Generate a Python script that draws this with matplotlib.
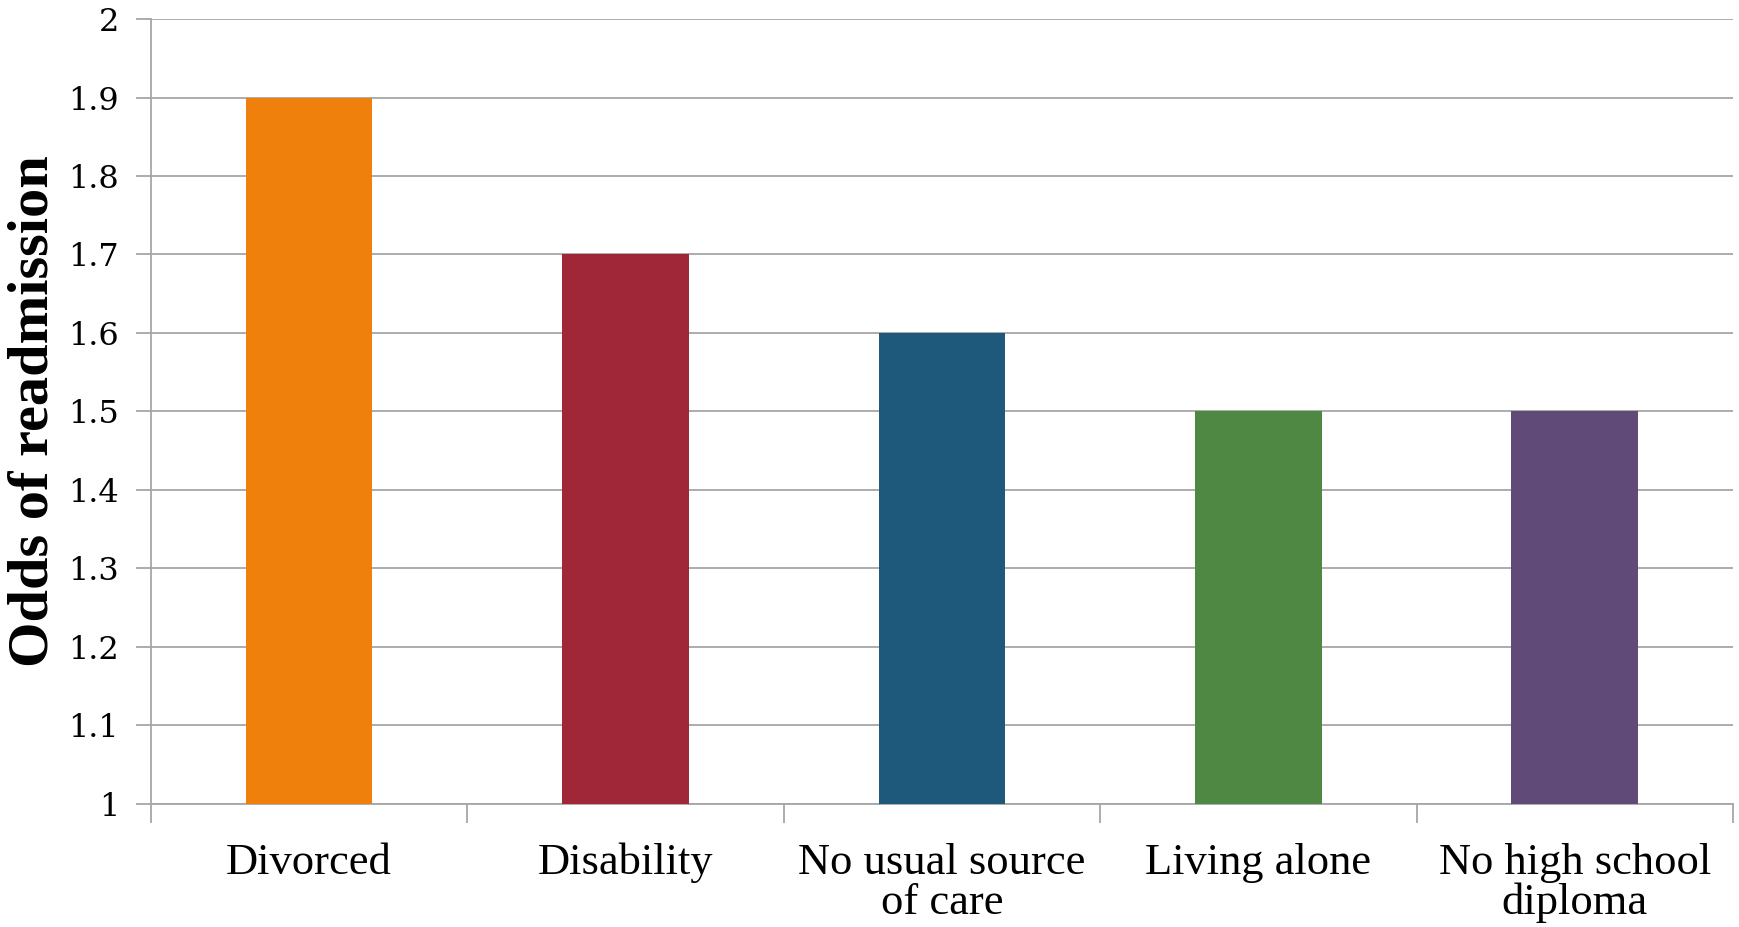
import matplotlib.pyplot as plt
import numpy as np

categories = ['Divorced', 'Disability', 'No usual source\nof care', 'Living alone', 'No high school\ndiploma']
odds = [1.9, 1.7, 1.6, 1.5, 1.5]
colors = ['#EF800B', '#A02737', '#1E587A', '#4E8842', '#604A78']
yticks = [1, 1.1, 1.2, 1.3, 1.4, 1.5, 1.6, 1.7, 1.8, 1.9, 2]
ytick_labels = ['1', '1.1', '1.2', '1.3', '1.4', '1.5', '1.6', '1.7', '1.8', '1.9', '2']

fig = plt.figure(figsize=(17.39, 9.27), dpi=100)
ax = fig.add_axes([0.0868, 0.1327, 0.9097, 0.8468])

x = np.arange(len(categories))
base = 1.0
ax.bar(x, [v - base for v in odds], bottom=base, width=0.40, color=colors, zorder=3)

ax.set_xlim(-0.5, len(categories) - 0.5)
ax.set_ylim(1, 2)
ax.set_yticks(yticks)
ax.set_yticklabels(ytick_labels, family='DejaVu Serif', fontsize=23)
ax.set_xticks(x)
ax.set_xticklabels(categories, family='Liberation Serif', fontsize=32, linespacing=1.0)
ax.set_xticks(np.arange(-0.5, len(categories)), minor=True)

grid_c = '#a6a6a6'
ax.yaxis.grid(True, color=grid_c, linewidth=1.3, zorder=0)
ax.tick_params(axis='y', length=11, width=1.3, color=grid_c, pad=12)
ax.tick_params(axis='x', which='major', length=0, pad=28)
ax.tick_params(axis='x', which='minor', length=14, width=1.3, color=grid_c)

for s in ['top', 'right']:
    ax.spines[s].set_visible(False)
for s in ['left', 'bottom']:
    ax.spines[s].set_color(grid_c)
    ax.spines[s].set_linewidth(1.3)

ax.set_ylabel('Odds of readmission', family='Liberation Serif', fontweight='bold', fontsize=42)
ax.yaxis.set_label_coords(-0.0575, 0.5)

fig.savefig('out.png', dpi=100)
